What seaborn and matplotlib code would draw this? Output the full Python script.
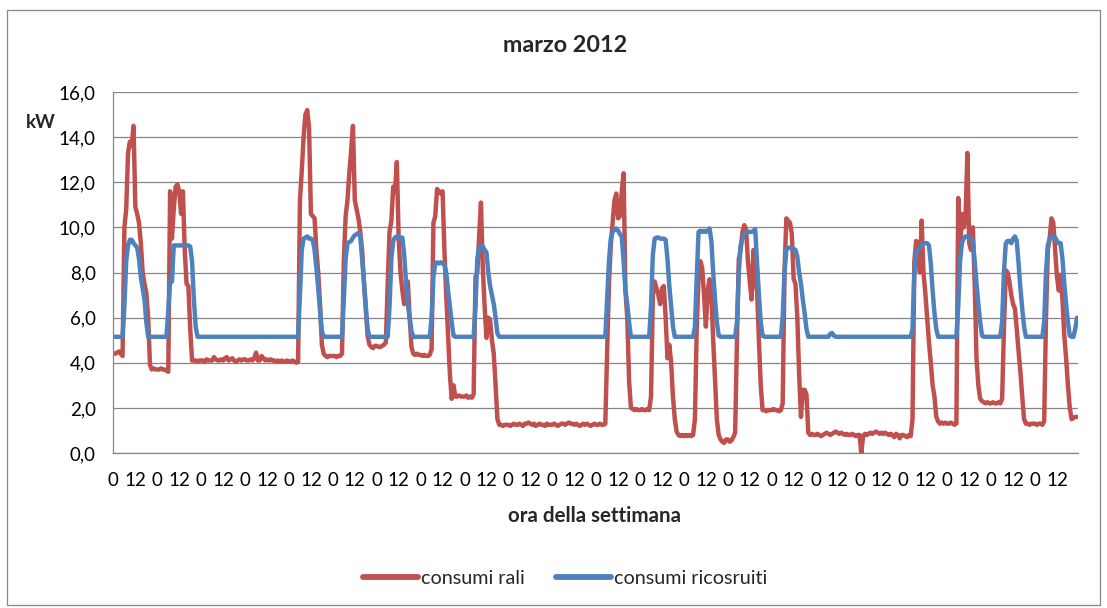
import numpy as np
import pandas as pd
import seaborn as sns
import matplotlib
matplotlib.use("Agg")
import matplotlib.pyplot as plt
from matplotlib.lines import Line2D
from matplotlib.patches import Rectangle

# --- consumi rali (kW), one list per day, hours 0..23, 1-22 marzo 2012 ---
rali_01 = [4.4, 4.4, 4.45, 4.5, 4.4, 4.3, 10.0, 10.8, 13.3, 13.8, 13.6, 14.5, 10.9, 10.6, 10.2, 9.3, 8.0, 7.5, 7.1, 6.0, 3.9, 3.7, 3.75, 3.7]
rali_02 = [3.7, 3.7, 3.75, 3.7, 3.7, 3.65, 3.6, 11.6, 9.5, 10.8, 11.8, 11.9, 11.6, 10.6, 11.6, 9.0, 7.5, 7.4, 5.5, 4.1, 4.1, 4.1, 4.05, 4.1]
rali_03 = [4.1, 4.1, 4.05, 4.15, 4.1, 4.1, 4.1, 4.25, 4.15, 4.1, 4.1, 4.15, 4.1, 4.2, 4.25, 4.1, 4.15, 4.2, 4.1, 4.05, 4.1, 4.15, 4.1, 4.15]
rali_04 = [4.15, 4.1, 4.1, 4.15, 4.1, 4.2, 4.45, 4.1, 4.1, 4.3, 4.2, 4.1, 4.15, 4.1, 4.15, 4.1, 4.1, 4.05, 4.1, 4.05, 4.1, 4.05, 4.05, 4.1]
rali_05 = [4.05, 4.05, 4.1, 4.05, 4.0, 4.05, 11.2, 12.5, 14.0, 15.0, 15.2, 14.4, 10.6, 10.5, 10.4, 9.0, 8.0, 6.6, 4.8, 4.4, 4.3, 4.25, 4.3, 4.3]
rali_06 = [4.3, 4.3, 4.25, 4.3, 4.3, 4.4, 8.5, 10.5, 11.2, 12.4, 13.4, 14.5, 11.2, 10.8, 10.4, 9.8, 9.0, 7.6, 6.4, 5.2, 4.8, 4.7, 4.65, 4.75]
rali_07 = [4.75, 4.7, 4.7, 4.75, 4.8, 4.9, 7.5, 9.8, 10.3, 11.8, 11.6, 12.9, 9.5, 8.0, 7.2, 6.6, 7.0, 7.6, 6.0, 4.7, 4.4, 4.35, 4.4, 4.35]
rali_08 = [4.35, 4.3, 4.35, 4.3, 4.3, 4.35, 4.6, 10.2, 10.5, 11.7, 11.6, 11.5, 11.6, 9.0, 7.0, 5.2, 3.5, 2.4, 3.0, 2.5, 2.5, 2.55, 2.5, 2.5]
rali_09 = [2.5, 2.55, 2.45, 2.5, 2.45, 2.6, 7.8, 8.0, 9.6, 11.1, 8.2, 6.5, 5.1, 6.0, 5.9, 5.0, 4.4, 3.0, 1.5, 1.25, 1.25, 1.2, 1.25, 1.25]
rali_10 = [1.25, 1.2, 1.25, 1.3, 1.25, 1.25, 1.3, 1.25, 1.2, 1.3, 1.3, 1.35, 1.3, 1.25, 1.3, 1.2, 1.25, 1.3, 1.25, 1.25, 1.2, 1.3, 1.25, 1.25]
rali_11 = [1.25, 1.3, 1.25, 1.2, 1.25, 1.3, 1.3, 1.25, 1.3, 1.35, 1.3, 1.3, 1.25, 1.3, 1.25, 1.2, 1.25, 1.3, 1.25, 1.3, 1.25, 1.2, 1.25, 1.3]
rali_12 = [1.25, 1.25, 1.3, 1.25, 1.25, 1.3, 4.5, 7.5, 9.2, 10.2, 11.2, 11.5, 10.4, 10.5, 11.6, 12.4, 7.2, 6.0, 3.2, 2.0, 1.95, 1.9, 1.95, 1.9]
rali_13 = [1.9, 1.95, 1.9, 1.9, 1.95, 1.9, 2.5, 7.0, 7.6, 7.3, 7.0, 6.6, 7.3, 7.4, 6.0, 4.2, 4.8, 4.0, 2.5, 1.5, 0.95, 0.8, 0.75, 0.8]
rali_14 = [0.75, 0.8, 0.75, 0.8, 0.75, 0.8, 1.5, 5.5, 7.8, 8.5, 8.2, 7.0, 5.6, 7.2, 7.7, 7.0, 5.0, 3.2, 1.5, 0.8, 0.6, 0.5, 0.45, 0.6]
rali_15 = [0.6, 0.5, 0.55, 0.7, 0.9, 5.0, 8.6, 9.0, 9.8, 10.1, 9.9, 8.5, 7.6, 6.8, 9.0, 7.6, 7.2, 5.0, 3.0, 1.9, 1.9, 1.85, 1.9, 1.9]
rali_16 = [1.9, 1.95, 1.9, 1.9, 1.85, 1.9, 2.2, 8.0, 10.4, 10.3, 10.2, 9.7, 7.7, 7.5, 6.0, 3.5, 1.6, 2.8, 2.8, 2.6, 0.9, 0.8, 0.85, 0.8]
rali_17 = [0.8, 0.85, 0.8, 0.75, 0.8, 0.85, 0.9, 0.85, 0.8, 0.85, 0.9, 0.95, 0.9, 0.85, 0.9, 0.85, 0.8, 0.85, 0.8, 0.8, 0.85, 0.8, 0.75, 0.8]
rali_18 = [0.8, 0.0, 0.75, 0.85, 0.8, 0.85, 0.9, 0.85, 0.9, 0.95, 0.9, 0.85, 0.9, 0.85, 0.9, 0.85, 0.8, 0.85, 0.8, 0.7, 0.85, 0.8, 0.65, 0.8]
rali_19 = [0.8, 0.75, 0.7, 0.8, 0.75, 1.5, 8.5, 9.4, 9.3, 8.0, 10.3, 8.0, 7.1, 6.0, 4.9, 4.0, 3.0, 2.5, 1.6, 1.4, 1.3, 1.35, 1.3, 1.35]
rali_20 = [1.3, 1.3, 1.35, 1.3, 1.25, 1.3, 11.3, 9.0, 10.6, 10.0, 10.4, 13.3, 9.3, 9.0, 10.0, 7.5, 4.2, 3.0, 2.4, 2.3, 2.25, 2.2, 2.25, 2.2]
rali_21 = [2.2, 2.25, 2.2, 2.2, 2.25, 2.2, 2.4, 5.5, 8.1, 8.0, 7.6, 7.0, 6.6, 6.4, 5.5, 4.5, 3.6, 2.5, 1.5, 1.3, 1.3, 1.25, 1.3, 1.3]
rali_22 = [1.3, 1.25, 1.3, 1.3, 1.25, 1.4, 6.0, 9.0, 9.5, 10.4, 10.2, 9.0, 7.8, 7.2, 7.9, 6.8, 5.2, 4.2, 3.0, 2.0, 1.5, 1.55, 1.6, 1.6]

# --- consumi ricosruiti (kW), same days and hours ---
ric_01 = [5.15, 5.15, 5.15, 5.15, 5.15, 5.15, 6.5, 8.5, 9.2, 9.45, 9.45, 9.3, 9.2, 9.1, 8.6, 7.8, 7.3, 6.8, 5.8, 5.15, 5.15, 5.15, 5.15, 5.15]
ric_02 = [5.15, 5.15, 5.15, 5.15, 5.15, 5.15, 6.3, 7.6, 7.6, 9.2, 9.2, 9.2, 9.2, 9.2, 9.2, 9.2, 9.2, 9.2, 9.15, 8.5, 6.8, 5.6, 5.15, 5.15]
ric_03 = [5.15, 5.15, 5.15, 5.15, 5.15, 5.15, 5.15, 5.15, 5.15, 5.15, 5.15, 5.15, 5.15, 5.15, 5.15, 5.15, 5.15, 5.15, 5.15, 5.15, 5.15, 5.15, 5.15, 5.15]
ric_04 = [5.15, 5.15, 5.15, 5.15, 5.15, 5.15, 5.15, 5.15, 5.15, 5.15, 5.15, 5.15, 5.15, 5.15, 5.15, 5.15, 5.15, 5.15, 5.15, 5.15, 5.15, 5.15, 5.15, 5.15]
ric_05 = [5.15, 5.15, 5.15, 5.15, 5.15, 5.15, 7.0, 9.0, 9.5, 9.55, 9.6, 9.5, 9.5, 9.45, 9.0, 8.2, 7.3, 6.3, 5.4, 5.15, 5.15, 5.15, 5.15, 5.15]
ric_06 = [5.15, 5.15, 5.15, 5.15, 5.15, 5.15, 6.8, 8.6, 9.3, 9.35, 9.4, 9.55, 9.65, 9.7, 9.75, 9.6, 8.6, 7.6, 6.5, 5.5, 5.15, 5.15, 5.15, 5.15]
ric_07 = [5.15, 5.15, 5.15, 5.15, 5.15, 5.15, 5.15, 6.5, 8.6, 9.4, 9.55, 9.6, 9.6, 9.5, 9.55, 8.8, 7.6, 6.6, 6.0, 5.4, 5.15, 5.15, 5.15, 5.15]
ric_08 = [5.15, 5.15, 5.15, 5.15, 5.15, 5.15, 6.0, 7.8, 8.4, 8.45, 8.4, 8.45, 8.4, 8.35, 8.0, 7.2, 6.5, 5.8, 5.2, 5.15, 5.15, 5.15, 5.15, 5.15]
ric_09 = [5.15, 5.15, 5.15, 5.15, 5.15, 5.15, 6.5, 8.6, 9.1, 9.2, 9.15, 9.0, 8.9, 8.0, 7.4, 7.0, 6.6, 6.0, 5.3, 5.15, 5.15, 5.15, 5.15, 5.15]
ric_10 = [5.15, 5.15, 5.15, 5.15, 5.15, 5.15, 5.15, 5.15, 5.15, 5.15, 5.15, 5.15, 5.15, 5.15, 5.15, 5.15, 5.15, 5.15, 5.15, 5.15, 5.15, 5.15, 5.15, 5.15]
ric_11 = [5.15, 5.15, 5.15, 5.15, 5.15, 5.15, 5.15, 5.15, 5.15, 5.15, 5.15, 5.15, 5.15, 5.15, 5.15, 5.15, 5.15, 5.15, 5.15, 5.15, 5.15, 5.15, 5.15, 5.15]
ric_12 = [5.15, 5.15, 5.15, 5.15, 5.15, 5.15, 6.8, 8.5, 9.5, 9.8, 9.9, 9.95, 9.85, 9.7, 9.6, 8.5, 7.2, 6.6, 5.8, 5.15, 5.15, 5.15, 5.15, 5.15]
ric_13 = [5.15, 5.15, 5.15, 5.15, 5.15, 5.15, 6.5, 8.8, 9.5, 9.55, 9.55, 9.5, 9.5, 9.5, 9.45, 8.6, 7.4, 6.5, 5.6, 5.15, 5.15, 5.15, 5.15, 5.15]
ric_14 = [5.15, 5.15, 5.15, 5.15, 5.15, 5.15, 5.6, 7.8, 9.8, 9.85, 9.8, 9.85, 9.8, 9.85, 9.95, 9.4, 8.0, 6.8, 5.8, 5.2, 5.15, 5.15, 5.15, 5.15]
ric_15 = [5.15, 5.15, 5.15, 5.15, 5.15, 5.8, 8.0, 9.2, 9.5, 9.7, 9.75, 9.8, 9.8, 9.8, 9.85, 9.9, 8.4, 7.0, 5.8, 5.2, 5.15, 5.15, 5.15, 5.15]
ric_16 = [5.15, 5.15, 5.15, 5.15, 5.15, 5.15, 6.0, 8.0, 9.0, 9.1, 9.1, 9.05, 9.05, 9.0, 8.7, 8.0, 7.5, 6.8, 6.2, 5.5, 5.15, 5.15, 5.15, 5.15]
ric_17 = [5.15, 5.15, 5.15, 5.15, 5.15, 5.15, 5.15, 5.15, 5.28, 5.32, 5.2, 5.15, 5.15, 5.15, 5.15, 5.15, 5.15, 5.15, 5.15, 5.15, 5.15, 5.15, 5.15, 5.15]
ric_18 = [5.15, 5.15, 5.15, 5.15, 5.15, 5.15, 5.15, 5.15, 5.15, 5.15, 5.15, 5.15, 5.15, 5.15, 5.15, 5.15, 5.15, 5.15, 5.15, 5.15, 5.15, 5.15, 5.15, 5.15]
ric_19 = [5.15, 5.15, 5.15, 5.15, 5.15, 5.5, 8.0, 8.9, 9.0, 9.1, 9.2, 9.3, 9.3, 9.3, 9.2, 8.4, 7.2, 6.2, 5.5, 5.15, 5.15, 5.15, 5.15, 5.15]
ric_20 = [5.15, 5.15, 5.15, 5.15, 5.15, 5.15, 6.5, 8.5, 9.3, 9.5, 9.6, 9.6, 9.55, 9.5, 9.4, 8.5, 7.5, 6.6, 5.8, 5.2, 5.15, 5.15, 5.15, 5.15]
ric_21 = [5.15, 5.15, 5.15, 5.15, 5.15, 5.15, 5.8, 8.0, 9.3, 9.4, 9.4, 9.3, 9.5, 9.6, 9.4, 8.4, 7.3, 6.4, 5.6, 5.15, 5.15, 5.15, 5.15, 5.15]
ric_22 = [5.15, 5.15, 5.15, 5.15, 5.15, 5.8, 8.0, 9.2, 9.5, 9.6, 9.6, 9.55, 9.4, 9.3, 9.3, 8.6, 7.5, 6.6, 5.8, 5.2, 5.15, 5.15, 5.5, 6.0]

giorni_rali = [rali_01, rali_02, rali_03, rali_04, rali_05, rali_06, rali_07, rali_08, rali_09, rali_10, rali_11,
               rali_12, rali_13, rali_14, rali_15, rali_16, rali_17, rali_18, rali_19, rali_20, rali_21, rali_22]
giorni_ric = [ric_01, ric_02, ric_03, ric_04, ric_05, ric_06, ric_07, ric_08, ric_09, ric_10, ric_11,
              ric_12, ric_13, ric_14, ric_15, ric_16, ric_17, ric_18, ric_19, ric_20, ric_21, ric_22]

serie_nomi = ["consumi rali", "consumi ricosruiti"]
colori = ["#C0504D", "#4F81BD"]
titolo = "marzo 2012"
asse_x = "ora della settimana"
asse_y = "kW"
etichette_ore = ["0", "12"]
y_ticks = [0, 2, 4, 6, 8, 10, 12, 14, 16]

# --- long-form table: one row per hour and series ---
rali = np.concatenate(giorni_rali)
ric = np.concatenate(giorni_ric)
n_ore = len(rali)
ore = np.arange(n_ore)
df = pd.DataFrame({
    "ora": np.concatenate([ore, ore]),
    "kW": np.concatenate([rali, ric]),
    "serie": [serie_nomi[0]] * n_ore + [serie_nomi[1]] * n_ore,
})

sns.set_theme(style="white")
plt.rcParams["font.family"] = ["Lato", "DejaVu Sans"]

W, H = 1107, 608
fig = plt.figure(figsize=(W / 100, H / 100), dpi=100)
fig.patch.set_facecolor("white")

# outer chart frame
fig.patches.append(Rectangle((7 / W, 3 / H), 1093 / W, 595 / H, transform=fig.transFigure,
                             fill=False, edgecolor="#868686", linewidth=0.9))

ax = fig.add_axes([112.5 / W, 1 - 453 / H, (1078 - 112.5) / W, (453 - 92) / H])
ax.set_facecolor("white")

sns.lineplot(data=df, x="ora", y="kW", hue="serie", hue_order=serie_nomi,
             palette=dict(zip(serie_nomi, colori)), linewidth=3.2, legend=False, ax=ax,
             solid_joinstyle="round", solid_capstyle="round")

grid_col = "#868686"
ax.set_xlim(-0.5, n_ore - 0.5)
ax.set_ylim(0, 16)
ax.set_yticks(y_ticks)
ax.set_yticklabels([f"{v:.1f}".replace(".", ",") for v in y_ticks])
tick_pos = np.arange(0, n_ore, 12)
ax.set_xticks(tick_pos)
ax.set_xticklabels([etichette_ore[i % 2] for i in range(len(tick_pos))])
ax.yaxis.grid(True, color=grid_col, linewidth=0.9)
ax.set_axisbelow(True)
for s in ["top", "right"]:
    ax.spines[s].set_visible(False)
for s in ["left", "bottom"]:
    ax.spines[s].set_color(grid_col)
    ax.spines[s].set_linewidth(0.9)
ax.tick_params(axis="y", length=0, pad=12, labelsize=13.5, colors="black")
ax.tick_params(axis="x", length=0, pad=14, labelsize=13.5, colors="black")
ax.set_xlabel("")
ax.set_ylabel("")

fig.text(565 / W, 1 - 45 / H, titolo, ha="center", va="center", fontsize=16.8, fontweight="bold")
fig.text(594 / W, 1 - 516 / H, asse_x, ha="center", va="center", fontsize=14.8, fontweight="bold")
fig.text(41 / W, 1 - 122 / H, asse_y, ha="center", va="center", fontsize=13.5, fontweight="bold")

handles = [Line2D([0], [0], color=c, linewidth=4.2, solid_capstyle="round") for c in colori]
fig.legend(handles, serie_nomi, loc="center", bbox_to_anchor=(565 / W, 1 - 578 / H), ncol=2,
           frameon=False, fontsize=14.2, handlelength=2.8, handletextpad=0.12, columnspacing=1.6)

fig.savefig("out.png", dpi=100, facecolor="white")
